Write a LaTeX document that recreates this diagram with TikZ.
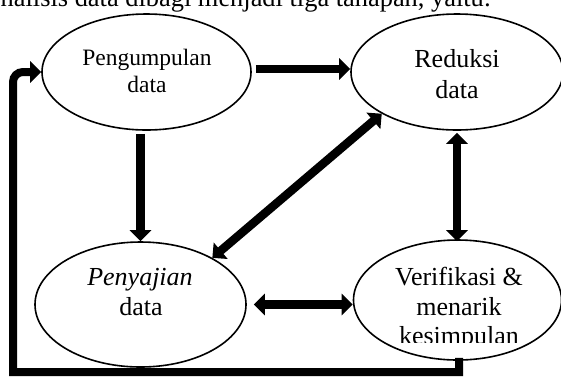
\documentclass[tikz,border=0pt]{standalone}
\usepackage{fontspec}
\setmainfont{Liberation Serif}
\usetikzlibrary{arrows.meta,shapes.geometric,calc}
\begin{document}
\begin{tikzpicture}[x=1pt,y=-1pt,
  oval/.style={draw, ellipse, line width=1.6pt, inner sep=0pt},
  lbl/.style={anchor=base, inner sep=0pt, font=\fontsize{26}{30}\selectfont},
  lblsmall/.style={anchor=base, inner sep=0pt, font=\fontsize{23.5}{27}\selectfont},
  flow/.style={line width=8.5pt, -{Triangle[width=21pt,length=11pt]}},
  flowtwo/.style={line width=8.5pt, {Triangle[width=21pt,length=11pt]}-{Triangle[width=21pt,length=11pt]}},
]
\clip (0,0) rectangle (561,376);
\fill[white] (0,0) rectangle (561,376);

% top running text (cut off by the page edge)
\node[anchor=base west, inner sep=0pt, font=\fontsize{26.4}{30}\selectfont] (head) at (0.5,6) {nalisis data dibagi menjadi tiga tahapan, yaitu:};

% ellipses
\node[oval, minimum width=209pt, minimum height=116pt] (P) at (146.5,72) {};
\node[oval, minimum width=212pt, minimum height=116pt] (R) at (457,72) {};
\node[oval, minimum width=211pt, minimum height=125pt] (S) at (140.5,304.5) {};
\node[oval, minimum width=208pt, minimum height=120pt] (V) at (457.5,300) {};

% labels
\node[lblsmall] (P1) at (147,65) {Pengumpulan};
\node[lblsmall] (P2) at (147,92) {data};
\node[lbl] (R1) at (457,67) {Reduksi};
\node[lbl] (R2) at (457,98) {data};
\node[lbl] (S1) at (140,285) {\itshape Penyajian};
\node[lbl] (S2) at (141,315) {data};
\node[lbl] (V1) at (459,285) {Verifikasi \&};
\node[lbl] (V2) at (459,315) {menarik};
\begin{scope}
  \clip (340,320) rectangle (561,342.5);
  \node[lbl] (V3) at (459,344) {kesimpulan};
\end{scope}

% connectors
\draw[flow] ([xshift=4pt,yshift=3pt]P.east) -- ([yshift=3pt]R.west);
\draw[flow] ($(P.south -| S.north)+(0,3)$) -- (S.north);
\draw[flowtwo] ($(R.south)+(0,2)$) -- ($(R.south |- V.north)+(0,2)$);
\draw[flowtwo] ($(S.east)+(7,0)$) -- (V.west |- S.east);
\draw[flowtwo] (S.33) -- (R.209);

\coordinate (bl) at (13,372);
\coordinate (tl) at (bl |- P.west);
\draw[flow, line width=8pt] ($(V.south)+(1.5,-3)$) |- (bl) -- ($(tl)+(0,10)$) to[out=90,in=180] ($(tl)+(10,0)$) -- (P.west);
\end{tikzpicture}
\end{document}
